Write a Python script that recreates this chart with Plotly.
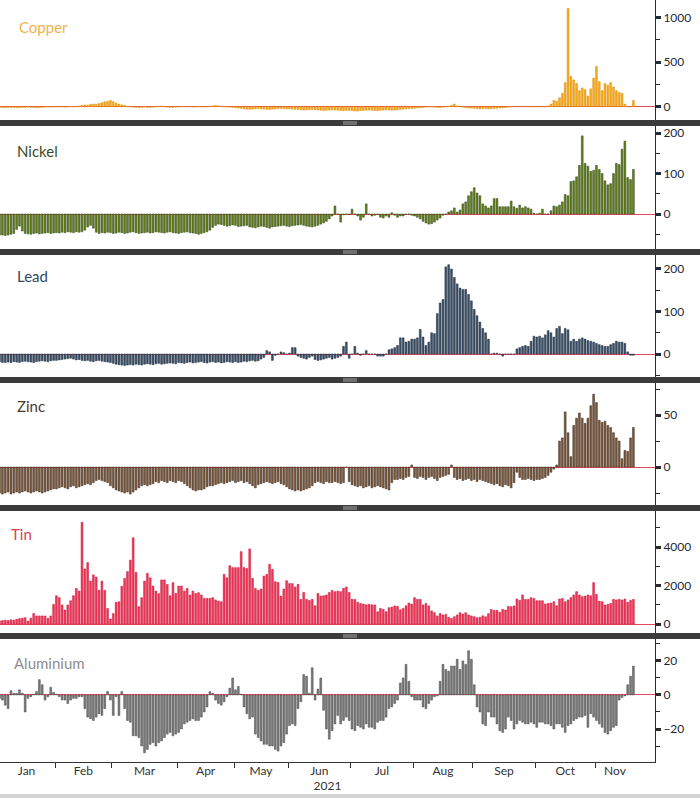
import numpy as np
import pandas as pd
import plotly.graph_objects as go

# ---------------- data ----------------
holidays = ["2021-04-02", "2021-04-05", "2021-05-03", "2021-05-31", "2021-08-30"]
dates = pd.bdate_range("2021-01-04", "2021-11-18", freq="C", holidays=holidays)

copper = [
    -8, -10, -12, -10, -8, -10, -12, -10, -10, -8, -5, -8, -10, -12, -10, -8, -5, -3, -5, -2,
    -2, 0, -3, -5, 0, 3, -2, 5, 8,
    15, 20, 18, 25, 30, 28, 35, 45, 55, 60, 70, 55, 40, 30, 20, 15,
    5, 0, -5, -8, -10, -8, -5, -8, -10, -5, 0, 5, 8, 3, -5, -10, -8, -5,
    -3, 0, 2, 0, -3, -5, -3, 0, -2, -3, 0, 5, 10, 15, 10, 5, 0, -3, -5, -8,
    -10, -15, -20, -25, -28, -30, -28, -25, -22, -25, -28, -30, -32, -28, -25, -22, -20, -22, -25,
    -25, -28, -30, -32, -35, -38, -35, -33, -30, -35, -38, -40, -42, -40, -38, -35, -38, -40, -42, -45, -42, -40,
    -45, -48, -50, -45, -42, -40, -38, -40, -42, -45, -40, -38, -35, -38, -40, -38, -35, -30, -28, -25, -22, -20,
    -18, -15, -12, -10, -5, 0, -3, -5, -8, -10, -5, 0, 5, 15, 30, 10, 0, -5, -10, -15,
    -15, -20, -22, -25, -22, -20, -25, -22, -20, -18, -15, -12, -10, -5,
    -3, 0, 0, 0, 0, 5, 0, 0, -3, 0, 0, 0, 0,
    10, 30, 70, 60, 100, 150, 270, 1100, 340, 300, 260, 180, 210, 190, 120, 200,
    320, 450, 280, 180, 260, 240, 270, 220, 180, 160, 150, 30, 0, 0, 70,
]

nickel = [
    -52, -52, -53, -52, -50, -48, -38, -30, -42, -48,
    -49, -50, -48, -47, -49, -48, -47, -46, -48, -47,
    -46, -47, -45, -46, -44, -45, -46, -44, -45, -44,
    -40, -32, -28, -35, -45, -48, -46, -47, -45, -46,
    -48, -47, -45, -46, -48, -47, -45, -44, -46, -48,
    -47, -46, -45, -47, -46, -44, -45, -46, -47, -45,
    -44, -46, -47, -48, -46, -45, -44, -46, -47, -48,
    -50, -48, -46, -44, -40, -33, -28, -25, -26, -28,
    -30, -29, -27, -28, -31, -30, -29, -28, -32, -33,
    -34, -32, -30, -31, -33, -35, -32, -31, -30, -29,
    -28, -30, -31, -29, -28, -27, -26, -28, -30, -31,
    -32, -30, -28, -25, -22, -18, -12,
    -5, 20, 0, -20, -2, 0, -1, 12, 0, -5, -15, -8, 25, 0, -5, -3, -1, -8, -10, -5,
    -8, 3, -3, -8, -5, -5, -1, 0, -3, -5, -8, -12, -18, -22, -25, -24, -20, -15, -10, -3, 0,
    5, 8, 15, 5, 10, 25, 30, 45, 55, 65, 52, 45, 25, 20, 15, 20, 38, 38, 18, 18,
    18, 18, 32, 18, 14, 22, 15, 18, 15, 12, 2, 0, 2, 12, 0, 0,
    8, 20, 18, 22, 30, 48, 45, 80, 82, 92, 120, 193, 125, 118, 105,
    108, 120, 110, 100, 82, 72, 75, 100, 125, 122, 160, 180, 90, 85, 110,
]

lead = [
    -18, -20, -20, -19, -20, -18, -19, -20, -18, -17, -18, -19, -20, -18, -17, -16, -17, -18, -16, -15,
    -15, -14, -13, -12, -11, -10, -12, -14, -13, -15, -16, -15, -17, -18, -16, -15, -17, -18, -19, -20,
    -22, -24, -25, -26, -27, -26, -25, -26, -24, -25, -26, -24, -23, -24, -25, -23, -22, -24, -23, -22, -21, -22, -23,
    -20, -21, -22, -20, -19, -21, -20, -19, -18, -20, -21, -19, -18, -20, -19, -21, -20, -18, -19, -20,
    -18, -20, -19, -17, -18, -16, -15, -17, -16, -12, -8, 8, 5, -15, -3, 0, 5, 3, 0, 2, 15, 15,
    -5, -8, -10, -12, -8, -5, -13, -15, -14, -12, -10, -8, -12, -10, -8, -5,
    18, 28, -10, 0, 18, 2, -3, 0, 8, 0, 0, 0, -5, -5, -5, 0,
    10, 12, 15, 20, 38, 38, 28, 30, 35, 35, 38, 58, 40, 20, 28, 50, 48, 95, 120, 128, 205, 210,
    200, 180, 165, 155, 152, 152, 140, 125, 105, 90, 75, 60, 50, 35,
    0, 2, 2, 0, -5, 0, 0, 0, 0, 12, 15, 18, 20, 18, 30, 42, 40, 42, 38, 45,
    55, 50, 40, 60, 65, 48, 60, 57, 30, 35, 30, 35, 38, 35, 32, 30, 28, 25, 22, 20,
    18, 18, 22, 25, 30, 28, 28, 25, 5, -3, -3,
]

zinc = [
    -25, -26, -25, -24, -26, -25, -24, -25, -24, -23,
    -24, -25, -24, -23, -24, -25, -24, -23, -22, -21,
    -21, -20, -19, -20, -21, -19, -18, -20, -19, -18,
    -17, -16, -17, -15, -13, -12, -13, -14, -15,
    -18, -20, -22, -23, -24, -25, -24, -26, -24,
    -22, -20, -18, -17, -18, -17, -16,
    -14, -15, -13, -14, -15, -13, -14, -15, -13, -14, -16, -18,
    -20, -22, -23, -22, -22, -21,
    -19, -18, -18, -17, -16, -15, -16,
    -15, -14, -13, -15, -14, -13, -15, -14, -16,
    -18, -20, -17, -16,
    -15, -14, -15, -16, -15, -14, -16, -17, -19,
    -21, -22, -23, -22, -23, -22, -21, -20, -18,
    -15, -14, -15, -16, -14, -15, -15, -14, -15, -16, -15,
    0, -14,
    -17, -18, -19, -18, -20, -19, -18, -20, -19, -18, -19, -20, -21, -22,
    -15, -12, -12, -11, -12, -10, -9,
    2,
    -10, -11, -9, -10, -12, -10, -9, -11, -13, -10, -9, -8, -7,
    2,
    -10, -12, -11, -13, -12, -11, -13, -12, -14, -12, -13, -14,
    -15, -16, -17, -16, -18, -19, -17, -18, -20, -15,
    -5,
    -10, -12, -12, -11, -12, -13, -12, -12, -11, -10, -8,
    -5, -2, 2,
    25, 28, 53, 33, 10, 40, 47, 52, 47, 42, 47, 59, 70, 62, 45,
    43, 44, 40, 38, 33, 28, 25, 8, 16, 15, 28, 38,
]

tin = [
    150, 180, 200, 180, 220, 200, 250, 280, 300, 330, 150, 300, 550, 420, 420, 420, 420, 300, 420,
    1020, 1470, 1370, 990, 730, 990, 1210, 1470, 1850, 1710,
    5280, 2860, 3190, 2230, 2550, 2440, 1750, 2230, 1750, 810,
    260, 540, 1130, 1160, 1960, 2370, 2720, 3320, 4480,
    2680, 900, 1370, 2230, 2630, 2400, 1970, 1710, 1580, 2290,
    2290, 2060, 1470, 2150, 1590, 1970, 1970, 1710, 1850, 1510,
    1710, 1590, 1630, 1510, 1330, 1330, 1330, 1370, 1250, 1190, 1160,
    2580, 2400, 3030, 2930, 2930, 2930, 3760, 2930, 2890, 3900,
    2370, 1850, 1750, 1820, 2490, 2580, 3100, 2840, 2200, 2160,
    1450, 1820, 2250, 2100, 2100, 1920, 2060, 1280, 1640, 1280,
    1230, 1280, 950, 1590,
    1450, 1470, 1510, 1640, 1750, 1680, 1710, 1680, 1850, 1920,
    1640, 1280, 1280, 1130, 1070, 1040, 1000, 1020, 1000, 990,
    640, 810, 760, 640, 850, 880, 940, 920, 740, 810,
    950, 1090, 1040, 1370, 1280, 1280, 990, 1070, 940, 680,
    590, 420, 550, 470, 500, 350, 290, 380, 470, 590,
    520, 590, 470, 420, 380, 330, 350, 430, 380, 540,
    760, 710, 710, 610, 760, 730, 920, 900, 940, 1300,
    1230, 1510, 1280, 1280, 1370, 1330, 1210, 1210, 1210, 1040,
    1070, 1090, 1160, 950, 1300, 1330, 1160, 1250, 1370, 1510,
    1680, 1510, 1420, 1450, 1510, 1470, 2150, 1540, 1190, 1160,
    990, 1020, 1070, 1280, 1250, 1280, 1250, 1300, 1130, 1230, 1280,
]

aluminium = [
    -2, -3, -6, -8, 2.5, 1, 1, 3, 1, -10,
    -2, -1, 0.5, 2, 9, 6, -3, -1, 4.5, 1.5,
    0.5, -1, -3, -3, -5, -3, -2, -2, -1, -1,
    -8, -13, -14, -15, -13, -11, -12, -8, 2, -3,
    -12, -1, -12, 2, -8, -15, -16, -24, -24, -25,
    -30, -34, -32, -29, -28, -30, -28, -27, -25, -23,
    -22, -24, -23, -22, -20, -17, -16, -15, -14, -15,
    -15, -13, -10, -7, 2, 1, -3, -5, -6, -4,
    -1, 4, 10, 3, 5, 0.5, -7, -11, -14, -13,
    -23, -25, -27, -29, -29, -30, -30, -32, -33, -30,
    -28, -23, -18, -17, -18, -8, -4, 12, 11, 1,
    16, -3, 3.5, 10, -9,
    -20, -26, -21, -17, -12, -17, -15, -13, -15, -20, -21, -18, -19, -20, -17,
    -19, -19, -20, -16, -15, -15, -13, -8, -7, -5,
    -3, 7, 10, 18, 8,
    -1, -3, -3, -3, -7, -8, -5, -3, -1, -0.5,
    8, 18, 15, 14, 17, 17, 21, 15, 20, 18, 26, 21,
    6,
    -7, -10, -17, -18, -10, -13, -13, -17, -21, -22, -20, -13, -15, -20, -17,
    -15, -16, -17, -17, -16, -17, -19, -16, -16, -17, -17, -18, -20, -17, -17,
    -19, -22, -18, -17, -15, -14, -13, -13, -12, -19, -11, -13, -15, -17, -19,
    -22, -23, -21, -19, -18,
    -3, -1.5, -0.5, 6, 11, 17,
]

month_names = ["Jan", "Feb", "Mar", "Apr", "May", "Jun", "Jul", "Aug", "Sep", "Oct", "Nov"]
year_label = "2021"

N = len(dates)
series = {"Copper": copper, "Nickel": nickel, "Lead": lead, "Zinc": zinc,
          "Tin": tin, "Aluminium": aluminium}
for k, v in series.items():
    assert len(v) == N, (k, len(v), N)

x = np.arange(N)
months = dates.month
boundaries = [i - 0.5 for i in range(1, N) if months[i] != months[i - 1]]
mids = []
for m in sorted(set(months)):
    idx = np.where(months == m)[0]
    mids.append((idx[0] + idx[-1]) / 2.0)

# ---------------- styling ----------------
W, H = 700, 798
XR = 655 / W
FONT = "Lato"

panels = [
    # name, fill, edge, title colour, (top px, bottom px), y-range, dtick, title x px, title y px
    ("Copper", "#f5aa22", "#e08e00", "#f2b34c", (0, 120), (-149, 1195), 500, 17, 27),
    ("Nickel", "#62801f", "#33450f", "#3e4c26", (126, 249), (-86.4, 217.3), 100, 15, 151),
    ("Lead", "#3d536b", "#1d2b3b", "#34485c", (255, 377), (-54.1, 232.9), 100, 15, 276),
    ("Zinc", "#7c5b40", "#3b2717", "#4a3a2a", (383, 505), (-36.5, 80.8), 50, 15, 406),
    ("Tin", "#ec3a5c", "#cf1234", "#e23b50", (511, 633), (-467, 5870), 2000, 9, 534),
    ("Aluminium", "#7c7c7c", "#444444", "#8e8e8e", (639, 762), (-39.4, 32.9), 20, 12, 663),
]

fig = go.Figure()
layout = dict(
    width=W, height=H, margin=dict(l=0, r=0, t=0, b=0),
    paper_bgcolor="white", plot_bgcolor="white",
    showlegend=False, barmode="overlay", bargap=0.36,
    font=dict(family=FONT, size=12, color="#222"),
)

annotations = []
for i, (name, fill, edge, tcol, (top, bot), rng, dt, tx, ty) in enumerate(panels):
    yname = "y" if i == 0 else f"y{i + 1}"
    lname = "yaxis" if i == 0 else f"yaxis{i + 1}"
    fig.add_trace(go.Bar(
        x=x, y=series[name], xaxis="x", yaxis=yname,
        marker=dict(color=fill, line=dict(color=edge, width=0.5)),
        hoverinfo="skip",
    ))
    axcol = "#2a2a2a" if name not in ("Copper", "Nickel", "Lead") else "#1f2d3d"
    layout[lname] = dict(
        domain=[1 - bot / H, 1 - top / H], range=list(rng),
        side="right", anchor="x", showline=True, linecolor=axcol, linewidth=1,
        ticks="outside", ticklen=5, tickwidth=2.5, tickcolor=axcol,
        tick0=0, dtick=dt,
        minor=dict(ticks="outside", ticklen=4, tickwidth=1, tickcolor=axcol, dtick=dt / 2),
        showgrid=False, zeroline=True, zerolinecolor="#e2485c", zerolinewidth=1.2,
        tickfont=dict(family=FONT, size=12, color="#1f2a36"),
        fixedrange=True,
    )
    annotations.append(dict(
        text=name, xref="paper", yref="paper", x=tx / W, y=1 - ty / H,
        xanchor="left", yanchor="middle", showarrow=False,
        font=dict(family=FONT, size=15, color=tcol),
    ))

# invisible trace so the label axis is drawn
fig.add_trace(go.Scatter(x=[None], y=[None], xaxis="x2", yaxis="y6",
                         showlegend=False, hoverinfo="skip"))

xr = [0.15, 230.6]
layout["xaxis"] = dict(
    domain=[0, XR], range=xr, anchor="y6",
    tickmode="array", tickvals=boundaries, ticktext=[""] * len(boundaries),
    ticks="outside", ticklen=5, tickcolor="#333", tickwidth=1,
    showline=True, linecolor="#333", linewidth=1,
    showgrid=False, zeroline=False, fixedrange=True,
)
layout["xaxis2"] = dict(
    domain=[0, XR], range=xr, anchor="y6", overlaying="x", side="bottom",
    tickmode="array", tickvals=mids, ticktext=month_names,
    ticks="", showline=False, showgrid=False, zeroline=False,
    tickfont=dict(family=FONT, size=12, color="#333"),
    title=dict(text=year_label, font=dict(family=FONT, size=12, color="#333"), standoff=3),
    fixedrange=True,
)

# panel separators
shapes = []
for (a, b) in [(120, 126), (249, 255), (377, 383), (505, 511), (633, 639)]:
    shapes.append(dict(type="rect", xref="paper", yref="paper", x0=0, x1=1,
                       y0=1 - b / H, y1=1 - a / H, fillcolor="#3b3b3b",
                       line=dict(width=0), layer="above"))
    mid = (a + b) / 2
    for d in (-1, 1):
        shapes.append(dict(type="line", xref="paper", yref="paper",
                           x0=343 / W, x1=357 / W, y0=1 - (mid + d) / H, y1=1 - (mid + d) / H,
                           line=dict(color="#a8a8a8", width=1), layer="above"))
# bottom band
shapes.append(dict(type="rect", xref="paper", yref="paper", x0=0, x1=1,
                   y0=0, y1=1 - 794 / H, fillcolor="#d4d4d4", line=dict(width=0)))

layout["shapes"] = shapes
layout["annotations"] = annotations
fig.update_layout(**layout)

fig.write_html(
    "out.html",
    config={"displayModeBar": False},
    post_script="document.body.style.margin='0';document.body.style.overflow='hidden';",
)
